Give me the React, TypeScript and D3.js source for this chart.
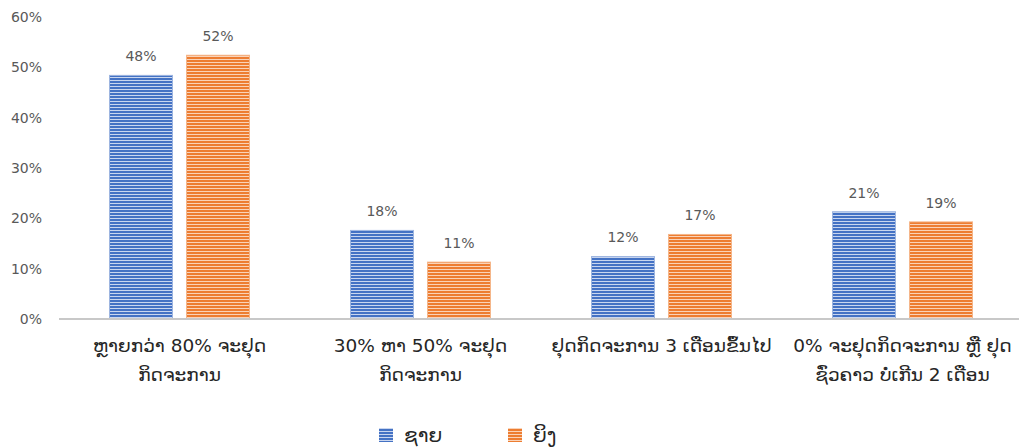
import React from "react";
import * as d3 from "d3";

const categories: string[][] = [
  ["ຫຼາຍກວ່າ 80% ຈະຢຸດ", "ກິດຈະການ"],
  ["30% ຫາ 50% ຈະຢຸດ", "ກິດຈະການ"],
  ["ຢຸດກິດຈະການ 3 ເດືອນຂຶ້ນໄປ"],
  ["0% ຈະຢຸດກິດຈະການ ຫຼື ຢຸດ", "ຊົ່ວຄາວ ບໍ່ເກີນ 2 ເດືອນ"],
];
const seriesNames = ["ຊາຍ", "ຍິງ"];
const maleValues = [0.484, 0.176, 0.124, 0.213];
const femaleValues = [0.524, 0.113, 0.168, 0.193];
const yTicks = [0, 0.1, 0.2, 0.3, 0.4, 0.5, 0.6];

const W = 1019;
const H = 448;
const colors = [
  { main: "#4472C4", light: "#C9D6EF", stroke: "#9DB5E0" },
  { main: "#ED7D31", light: "#FAD3B8", stroke: "#F5B68A" },
];

export default function App() {
  const x0 = d3.scaleBand<number>().domain(d3.range(categories.length)).range([59, 1023]);
  const x1 = d3.scaleBand<number>().domain([0, 1]).range([0, x0.bandwidth()]).paddingInner(0.182).paddingOuter(0.656);
  const y = d3.scaleLinear().domain([0, 0.6]).range([319, 17]);
  const fmt = d3.format(".0%");
  const series = [maleValues, femaleValues];
  const numFont = "'DejaVu Sans', sans-serif";
  const laoFont = "'DejaVu Sans', 'Noto Sans', sans-serif";

  return (
    <svg width={W} height={H} style={{ position: "absolute", left: 0, top: 0, background: "#fff" }}>
      <defs>
        {colors.map((c, i) => (
          <pattern key={i} id={`stripe${i}`} width={6} height={3} patternUnits="userSpaceOnUse">
            <rect width={6} height={3} fill={c.main} />
            <rect y={2} width={6} height={1} fill={c.light} />
          </pattern>
        ))}
      </defs>
      {yTicks.map((t) => (
        <text key={t} x={42} y={y(t)} dy="0.35em" textAnchor="end" fontFamily={numFont} fontSize={14} fill="#595959">
          {fmt(t)}
        </text>
      ))}
      {series.map((vals, si) =>
        vals.map((v, ci) => {
          const bx = (x0(ci) as number) + (x1(si) as number);
          const bw = x1.bandwidth();
          return (
            <g key={`${si}-${ci}`}>
              <rect x={bx} y={y(v)} width={bw} height={y(0) - y(v)} fill={`url(#stripe${si})`} stroke={colors[si].stroke} strokeWidth={1} />
              <text x={bx + bw / 2} y={y(v) - 19} dy="0.35em" textAnchor="middle" fontFamily={numFont} fontSize={14} fill="#595959">
                {fmt(v)}
              </text>
            </g>
          );
        })
      )}
      <line x1={59} x2={W} y1={y(0)} y2={y(0)} stroke="#C8C8C8" strokeWidth={2} />
      {categories.map((lines, ci) => (
        <text key={ci} textAnchor="middle" fontFamily={laoFont} fontSize={18.5} fill="#262626">
          {lines.map((l, li) => (
            <tspan key={li} x={(x0(ci) as number) + x0.bandwidth() / 2} y={352 + li * 29}>
              {l}
            </tspan>
          ))}
        </text>
      ))}
      {seriesNames.map((n, si) => {
        const lx = 379 + si * 129;
        return (
          <g key={n}>
            <rect x={lx} y={428} width={14} height={14} fill={`url(#stripe${si})`} />
            <text x={lx + 25} y={442} fontFamily={laoFont} fontSize={20} fill="#262626">
              {n}
            </text>
          </g>
        );
      })}
    </svg>
  );
}
